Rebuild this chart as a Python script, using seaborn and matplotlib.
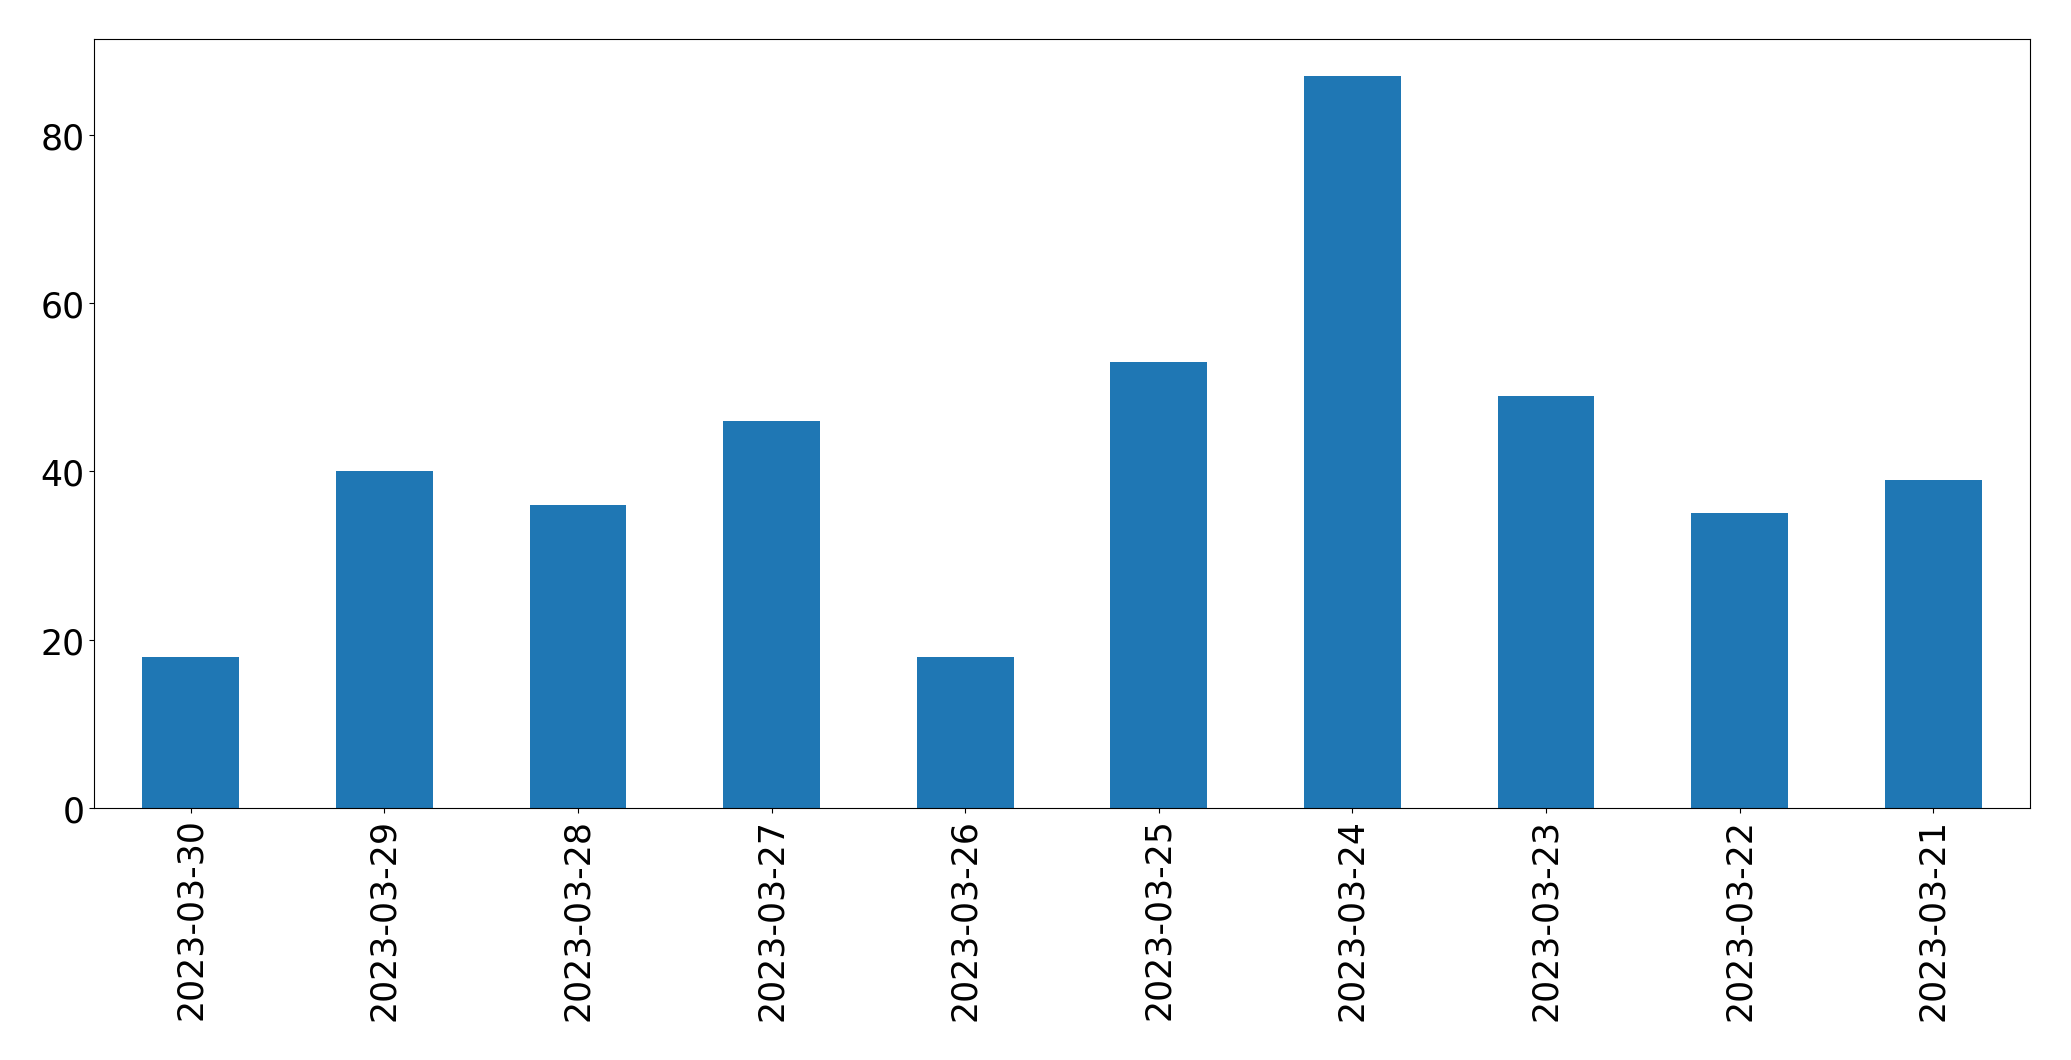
import matplotlib
matplotlib.use("Agg")
import matplotlib.pyplot as plt
import seaborn as sns
import pandas as pd

dates = ['2023-03-30', '2023-03-29', '2023-03-28', '2023-03-27', '2023-03-26',
         '2023-03-25', '2023-03-24', '2023-03-23', '2023-03-22', '2023-03-21']
counts = [18, 40, 36, 46, 18, 53, 87, 49, 35, 39]

df = pd.DataFrame({'date': dates, 'count': counts})

fig, ax = plt.subplots(figsize=(20.71, 10.608), dpi=100)
fig.subplots_adjust(left=94 / 2071, right=2030 / 2071,
                    top=1 - 40 / 1061, bottom=1 - 809 / 1061)

sns.barplot(data=df, x='date', y='count', order=dates, color='#1f77b4',
            saturation=1, width=0.5, ax=ax)

ax.set_xlim(-0.5, len(dates) - 0.5)
ax.set_ylim(0, max(counts) * 1.05)
ax.set_xlabel('')
ax.set_ylabel('')
ax.tick_params(axis='both', labelsize=25)
ax.tick_params(axis='x', labelrotation=90)

fig.savefig('out.png', dpi=100)
